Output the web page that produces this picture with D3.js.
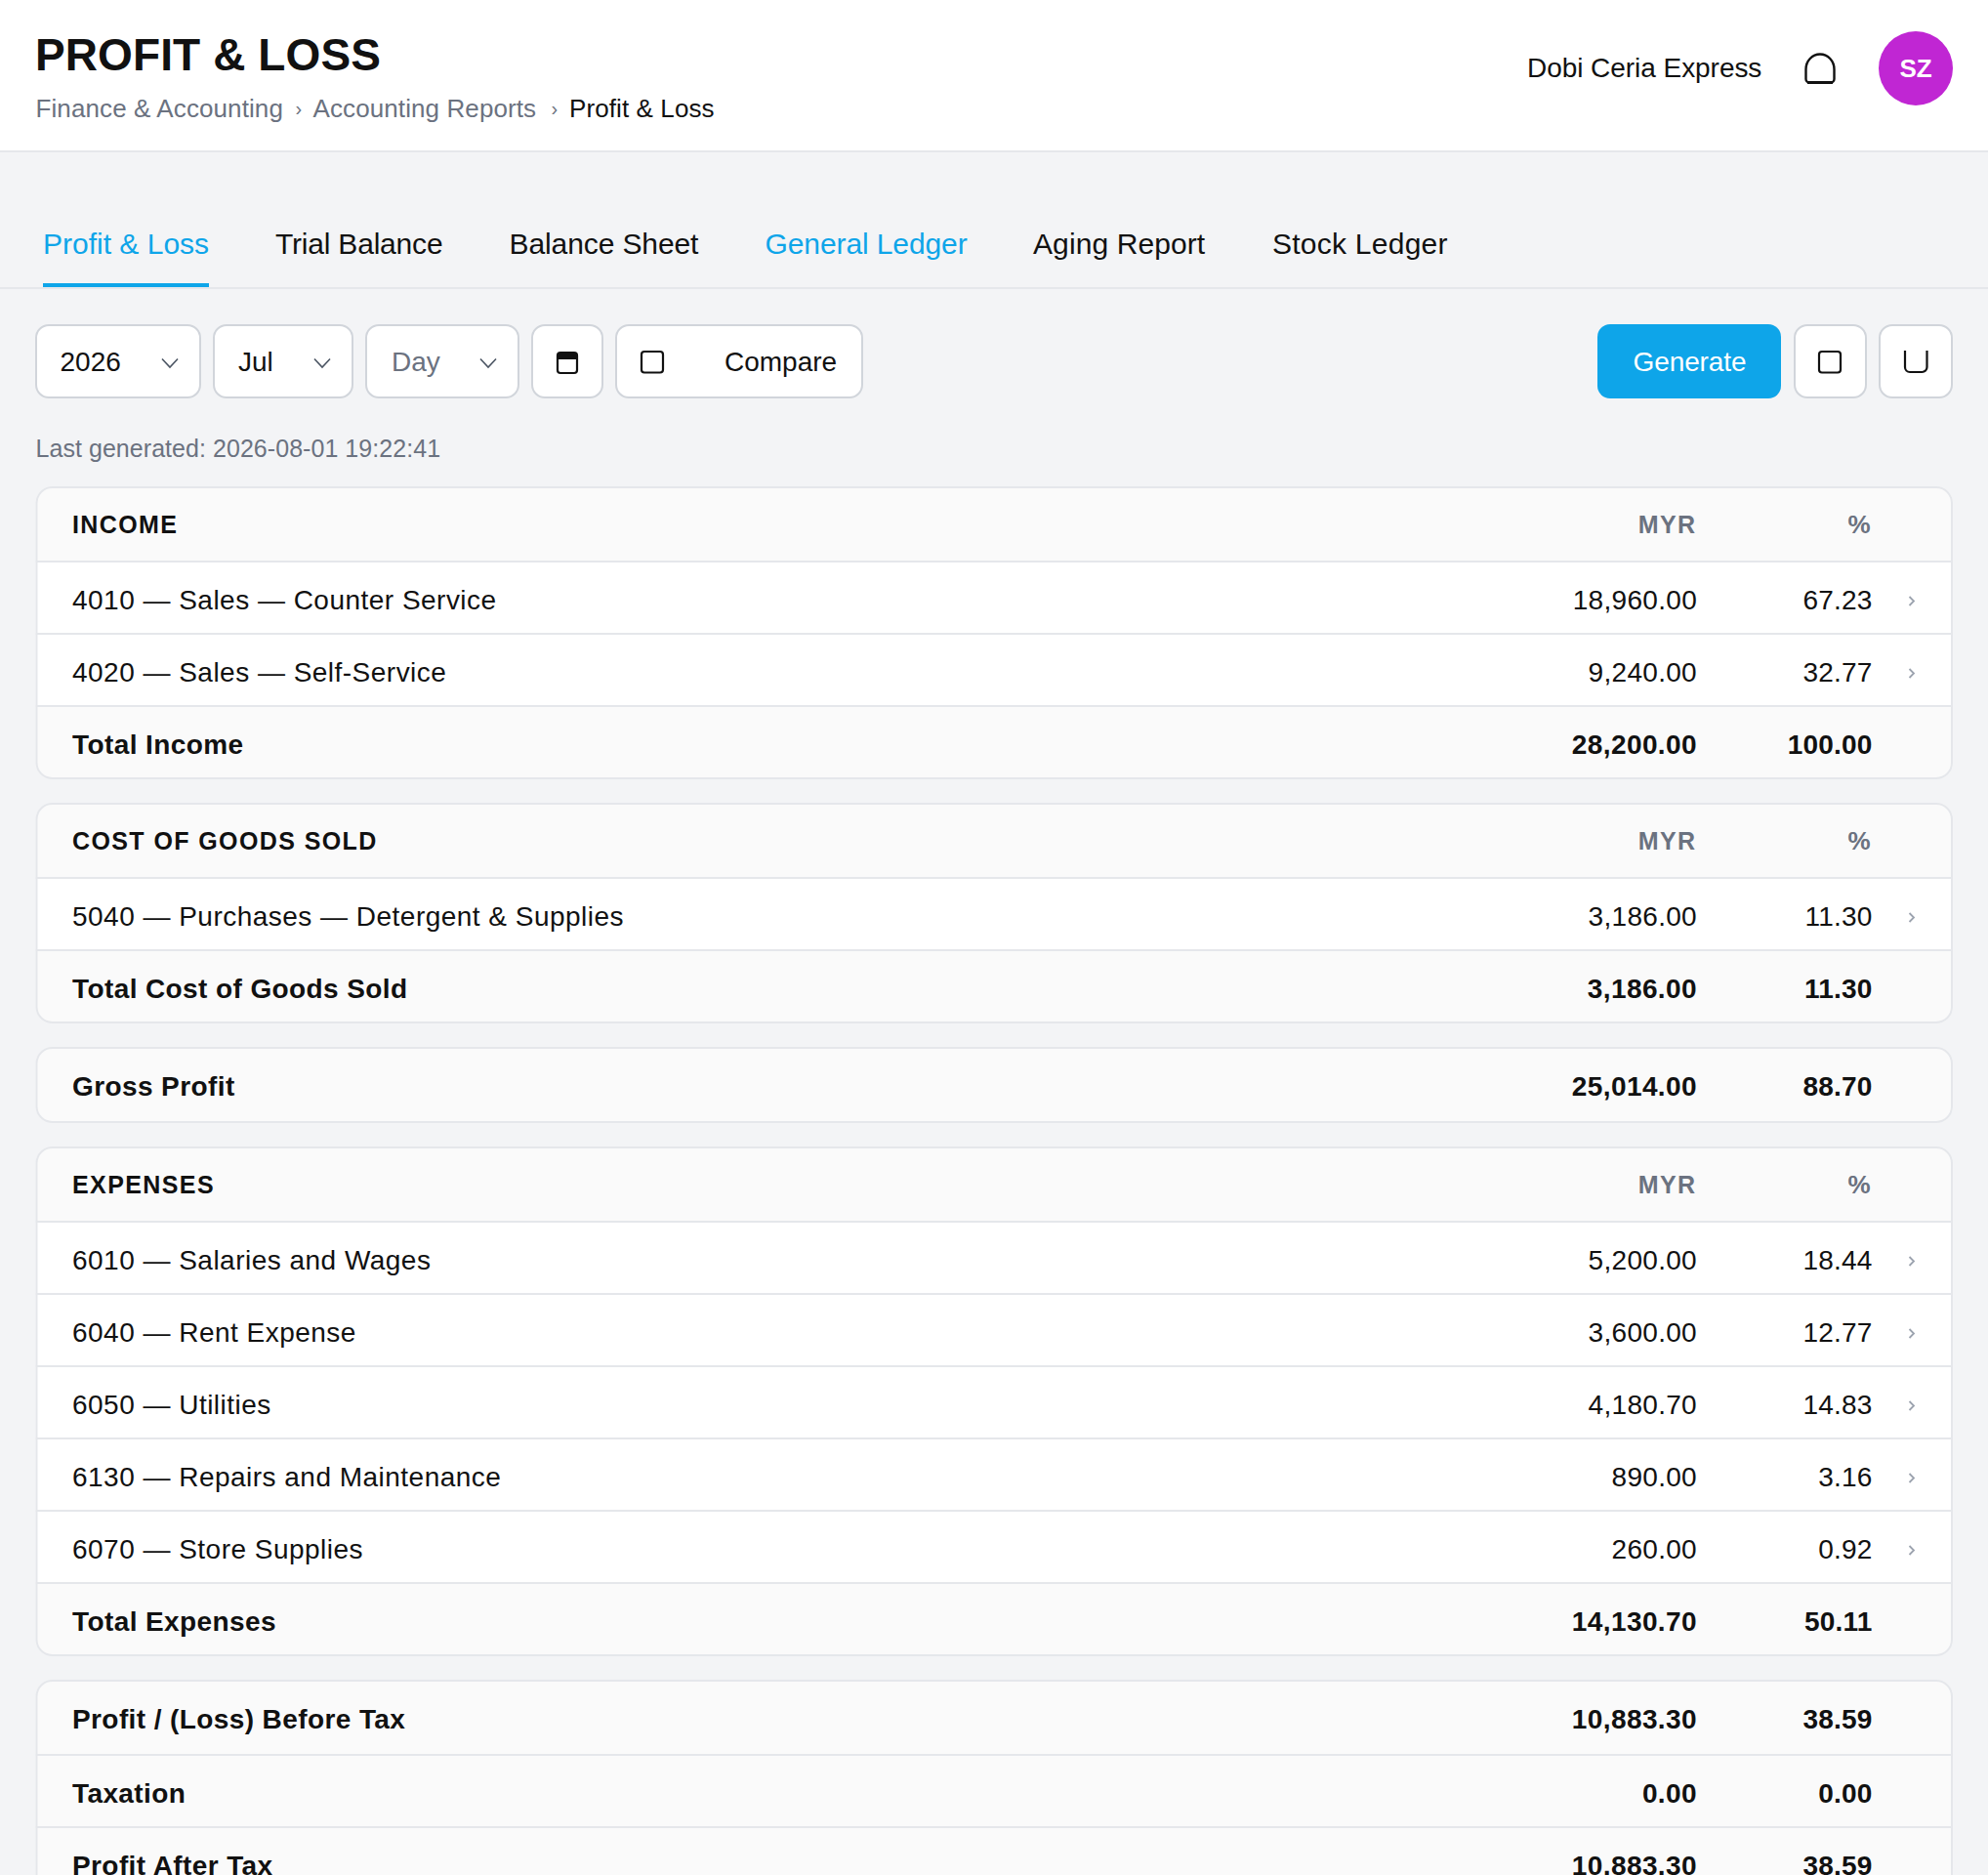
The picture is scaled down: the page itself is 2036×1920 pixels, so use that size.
<!doctype html>
<html>

<head>
	<title>Profit & Loss</title>
	<script src="https://d3js.org/d3.v7.min.js"></script>
	<style>
		html, body { margin: 0; padding: 0; background: #f3f4f6; overflow: hidden; }
		svg { display: block; font-family: "Liberation Sans", Arial, sans-serif; }
	</style>
</head>

<body>
	<script>
		// page texts
		const pageTitle = "PROFIT & LOSS";
		const crumbs = ["Finance & Accounting", "Accounting Reports", "Profit & Loss"];
		const company = "Dobi Ceria Express";
		const initials = "SZ";
		const tabs = ["Profit & Loss", "Trial Balance", "Balance Sheet", "General Ledger", "Aging Report", "Stock Ledger"];
		const blueTabs = ["Profit & Loss", "General Ledger"];
		const selects = ["2026", "Jul", "Day"];
		const generated = "Last generated: 2026-08-01 19:22:41";

		// table values
		const incomeLabels = ["4010 — Sales — Counter Service", "4020 — Sales — Self-Service"];
		const incomeMyr = [18960.00, 9240.00];
		const incomePct = [67.23, 32.77];
		const incomeTotal = [28200.00, 100.00];

		const cogsLabels = ["5040 — Purchases — Detergent & Supplies"];
		const cogsMyr = [3186.00];
		const cogsPct = [11.30];
		const cogsTotal = [3186.00, 11.30];

		const grossProfit = [25014.00, 88.70];

		const expenseLabels = ["6010 — Salaries and Wages", "6040 — Rent Expense", "6050 — Utilities", "6130 — Repairs and Maintenance", "6070 — Store Supplies"];
		const expenseMyr = [5200.00, 3600.00, 4180.70, 890.00, 260.00];
		const expensePct = [18.44, 12.77, 14.83, 3.16, 0.92];
		const expenseTotal = [14130.70, 50.11];

		const summaryLabels = ["Profit / (Loss) Before Tax", "Taxation", "Profit After Tax"];
		const summaryMyr = [10883.30, 0.00, 10883.30];
		const summaryPct = [38.59, 0.00, 38.59];

		const width = 2036;
		const height = 1920;
		const ink = "#111111";
		const grey = "#6b7280";
		const blue = "#0ea5e9";
		const line = "#e5e7eb";
		const soft = "#fafafa";
		const fieldLine = "#d1d5db";
		const money = d3.format(",.2f");

		const svg = d3.select("body").append("svg")
			.attr("width", width)
			.attr("height", height)
			.attr("viewBox", [0, 0, width, height]);

		// header bar
		svg.append("rect").attr("width", width).attr("height", 156).attr("fill", line);
		svg.append("rect").attr("width", width).attr("height", 154).attr("fill", "#ffffff");

		function label(parent, x, y, text, size, color, weight, spacing, anchor) {
			return parent.append("text")
				.attr("x", x)
				.attr("y", y)
				.attr("font-size", size)
				.attr("font-weight", weight || 400)
				.attr("letter-spacing", spacing || 0)
				.attr("text-anchor", anchor || "start")
				.attr("fill", color)
				.text(text);
		}

		label(svg, 36, 72, pageTitle, 46, ink, 700, 0.1);

		var crumbX = [36.5, 320.5, 583];
		svg.selectAll("text.crumb")
			.data(crumbs)
			.enter()
			.append("text")
			.attr("class", "crumb")
			.attr("x", function (d, i) { return crumbX[i]; })
			.attr("y", 120)
			.attr("font-size", 26)
			.attr("letter-spacing", 0.1)
			.attr("fill", function (d, i) { return i == crumbs.length - 1 ? ink : grey; })
			.text(function (d) { return d; });
		[302.5, 564.5].forEach(function (x) { label(svg, x, 118, "›", 20, grey); });

		label(svg, 1564, 79, company, 28, ink, 400, -0.05);

		// bell
		svg.append("path")
			.attr("d", "M1849.5 81 V71 a14.5 15.5 0 0 1 29 0 V81 a3.5 3.5 0 0 1 -3.5 3.5 H1853 a3.5 3.5 0 0 1 -3.5 -3.5 Z")
			.attr("fill", "none").attr("stroke", ink).attr("stroke-width", 2.4);
		svg.append("rect").attr("x", 1851).attr("y", 83).attr("width", 26).attr("height", 3).attr("fill", ink);

		svg.append("circle").attr("cx", 1962).attr("cy", 70).attr("r", 38).attr("fill", "#c026d3");
		label(svg, 1962, 79, initials, 26, "#ffffff", 700, 0, "middle");

		// tabs
		var tabX = [44, 282, 521.5, 783.5, 1058, 1303];
		var tabGap = [0, -0.2, -0.1, -0.1, 0.1, 0.25];
		svg.selectAll("text.tab")
			.data(tabs)
			.enter()
			.append("text")
			.attr("class", "tab")
			.attr("x", function (d, i) { return tabX[i]; })
			.attr("y", 260)
			.attr("font-size", 30)
			.attr("letter-spacing", function (d, i) { return tabGap[i]; })
			.attr("fill", function (d) { return blueTabs.includes(d) ? blue : ink; })
			.text(function (d) { return d; });
		svg.append("rect").attr("y", 294).attr("width", width).attr("height", 2).attr("fill", line);
		svg.append("rect").attr("x", 44).attr("y", 290).attr("width", 170).attr("height", 4).attr("fill", blue);

		// toolbar
		function field(x0, x1) {
			return svg.append("rect")
				.attr("x", x0 + 1).attr("y", 333)
				.attr("width", x1 - x0 - 2).attr("height", 74)
				.attr("rx", 13)
				.attr("fill", "#ffffff")
				.attr("stroke", fieldLine)
				.attr("stroke-width", 2);
		}
		function stroked(d, w) {
			return svg.append("path").attr("d", d).attr("fill", "none").attr("stroke", ink).attr("stroke-width", w || 2.2);
		}

		var selectBox = [[36, 206], [218, 362], [374, 532]];
		var selectText = [61.5, 244, 401];
		var selectArrow = [166, 322, 492];
		selects.forEach(function (s, i) {
			field(selectBox[i][0], selectBox[i][1]);
			label(svg, selectText[i], 380, s, 28, i == 2 ? grey : ink);
			svg.append("path")
				.attr("d", "M" + selectArrow[i] + " 367.5 l8 8.5 l8 -8.5")
				.attr("fill", "none").attr("stroke", "#4b5563").attr("stroke-width", 1.6);
		});

		field(544, 618);
		svg.append("rect").attr("x", 571).attr("y", 361).attr("width", 20).attr("height", 21).attr("rx", 3)
			.attr("fill", "none").attr("stroke", ink).attr("stroke-width", 2.2);
		svg.append("rect").attr("x", 571).attr("y", 361).attr("width", 20).attr("height", 7).attr("fill", ink);

		field(630, 884);
		svg.append("rect").attr("x", 657).attr("y", 360).attr("width", 22).attr("height", 21.5).attr("rx", 3)
			.attr("fill", "none").attr("stroke", ink).attr("stroke-width", 2.2);
		label(svg, 742, 380, "Compare", 28, ink);

		svg.append("rect").attr("x", 1636).attr("y", 332).attr("width", 188).attr("height", 76).attr("rx", 13).attr("fill", blue);
		label(svg, 1730.5, 380, "Generate", 28, "#ffffff", 400, -0.1, "middle");

		field(1837, 1912);
		svg.append("rect").attr("x", 1863).attr("y", 360).attr("width", 22).attr("height", 21.5).attr("rx", 3)
			.attr("fill", "none").attr("stroke", ink).attr("stroke-width", 2.2);
		field(1924, 2000);
		stroked("M1951 359 V376 a5 5 0 0 0 5 5 H1968.5 a5 5 0 0 0 5 -5 V359");

		label(svg, 36.5, 468, generated, 25, grey, 400, 0.05);

		// tables
		const rowH = 74;
		const headH = 78;
		const cardLeft = 36.5;
		const cardRight = 2000;
		const myrRight = 1738;
		const pctRight = 1917.5;

		function rowsOf(labels, myr, pct) {
			return labels.map(function (d, i) { return { label: d, myr: myr[i], pct: pct[i] }; });
		}

		const cards = [
			{ head: "INCOME", rows: rowsOf(incomeLabels, incomeMyr, incomePct), total: ["Total Income"].concat(incomeTotal) },
			{ head: "COST OF GOODS SOLD", rows: rowsOf(cogsLabels, cogsMyr, cogsPct), total: ["Total Cost of Goods Sold"].concat(cogsTotal) },
			{ strong: rowsOf(["Gross Profit"], [grossProfit[0]], [grossProfit[1]]) },
			{ head: "EXPENSES", rows: rowsOf(expenseLabels, expenseMyr, expensePct), total: ["Total Expenses"].concat(expenseTotal) },
			{ strong: rowsOf(summaryLabels, summaryMyr, summaryPct) }
		];

		var cardTop = 498;
		cards.forEach(function (card, c) {
			// flatten the card into rows
			var list = [];
			if (card.head) list.push({ kind: "head", label: card.head });
			(card.rows || []).forEach(function (r) { list.push(Object.assign({ kind: "row" }, r)); });
			if (card.total) list.push({ kind: "total", label: card.total[0], myr: card.total[1], pct: card.total[2] });
			(card.strong || []).forEach(function (r) { list.push(Object.assign({ kind: "total" }, r)); });

			var y = d3.scaleLinear().domain([0, 1]).range([cardTop + headH, cardTop + headH + rowH]);
			var rowTop = function (i) { return i == 0 ? cardTop : y(i - 1); };
			var bottom = y(list.length - 1);

			var clipId = "card" + c;
			svg.append("clipPath").attr("id", clipId)
				.append("rect").attr("x", cardLeft).attr("y", cardTop)
				.attr("width", cardRight - cardLeft).attr("height", bottom - cardTop).attr("rx", 17);

			var g = svg.append("g");
			var inner = g.append("g").attr("clip-path", "url(#" + clipId + ")");

			inner.selectAll("rect")
				.data(list)
				.enter()
				.append("rect")
				.attr("x", cardLeft)
				.attr("y", function (d, i) { return rowTop(i); })
				.attr("width", cardRight - cardLeft)
				.attr("height", function (d, i) { return y(i) - rowTop(i); })
				.attr("fill", function (d) { return d.kind == "row" ? "#ffffff" : soft; });

			// row separators
			inner.selectAll("line")
				.data(list.slice(0, -1))
				.enter()
				.append("line")
				.attr("x1", cardLeft)
				.attr("x2", cardRight)
				.attr("y1", function (d, i) { return y(i) - 1; })
				.attr("y2", function (d, i) { return y(i) - 1; })
				.attr("stroke", line)
				.attr("stroke-width", 2);

			g.append("rect")
				.attr("x", cardLeft + 1).attr("y", cardTop + 1)
				.attr("width", cardRight - cardLeft - 2).attr("height", bottom - cardTop - 2)
				.attr("rx", 16)
				.attr("fill", "none").attr("stroke", line).attr("stroke-width", 2);

			var top0 = cardTop;
			var base = function (d, i) { return i == 0 ? top0 + 49.6 : y(i - 1) + 47.6; };

			// account names
			g.selectAll("text.name")
				.data(list)
				.enter()
				.append("text")
				.attr("class", "name")
				.attr("x", 74)
				.attr("y", function (d, i) { return d.kind == "head" ? top0 + 48 : base(d, i); })
				.attr("font-size", function (d) { return d.kind == "head" ? 25 : 28; })
				.attr("font-weight", function (d) { return d.kind == "row" ? 400 : 700; })
				.attr("letter-spacing", function (d) { return d.kind == "head" ? 1.4 : d.kind == "row" ? 0.48 : 0.4; })
				.attr("fill", ink)
				.text(function (d) { return d.label; });

			var numbers = list.filter(function (d) { return d.kind != "head"; });
			var shift = list.length - numbers.length;

			g.selectAll("text.myr")
				.data(numbers)
				.enter()
				.append("text")
				.attr("class", "myr")
				.attr("x", myrRight)
				.attr("y", function (d, i) { return base(d, i + shift); })
				.attr("text-anchor", "end")
				.attr("font-size", 28)
				.attr("font-weight", function (d) { return d.kind == "row" ? 400 : 700; })
				.attr("letter-spacing", function (d) { return d.kind == "row" ? 0.3 : 0.4; })
				.attr("fill", ink)
				.text(function (d) { return money(d.myr); });

			g.selectAll("text.pct")
				.data(numbers)
				.enter()
				.append("text")
				.attr("class", "pct")
				.attr("x", pctRight)
				.attr("y", function (d, i) { return base(d, i + shift); })
				.attr("text-anchor", "end")
				.attr("font-size", 28)
				.attr("font-weight", function (d) { return d.kind == "row" ? 400 : 700; })
				.attr("letter-spacing", 0.2)
				.attr("fill", ink)
				.text(function (d) { return money(d.pct); });

			// drill-down arrows only on account rows
			g.selectAll("path.more")
				.data(numbers.filter(function (d) { return d.kind == "row"; }))
				.enter()
				.append("path")
				.attr("class", "more")
				.attr("d", function (d) {
					return "M1955.5 " + (y(list.indexOf(d) - 1) + 35) + " l4.5 4.5 l-4.5 4.5";
				})
				.attr("fill", "none")
				.attr("stroke", "#9ca3af")
				.attr("stroke-width", 1.8);

			if (card.head) {
				label(g, 1737.5, top0 + 48, "MYR", 25, grey, 700, 1.4, "end");
				label(g, 1915.5, top0 + 48, "%", 26, grey, 700, 0, "end");
			}

			cardTop = bottom + 24;
		});
	</script>
</body>

</html>
